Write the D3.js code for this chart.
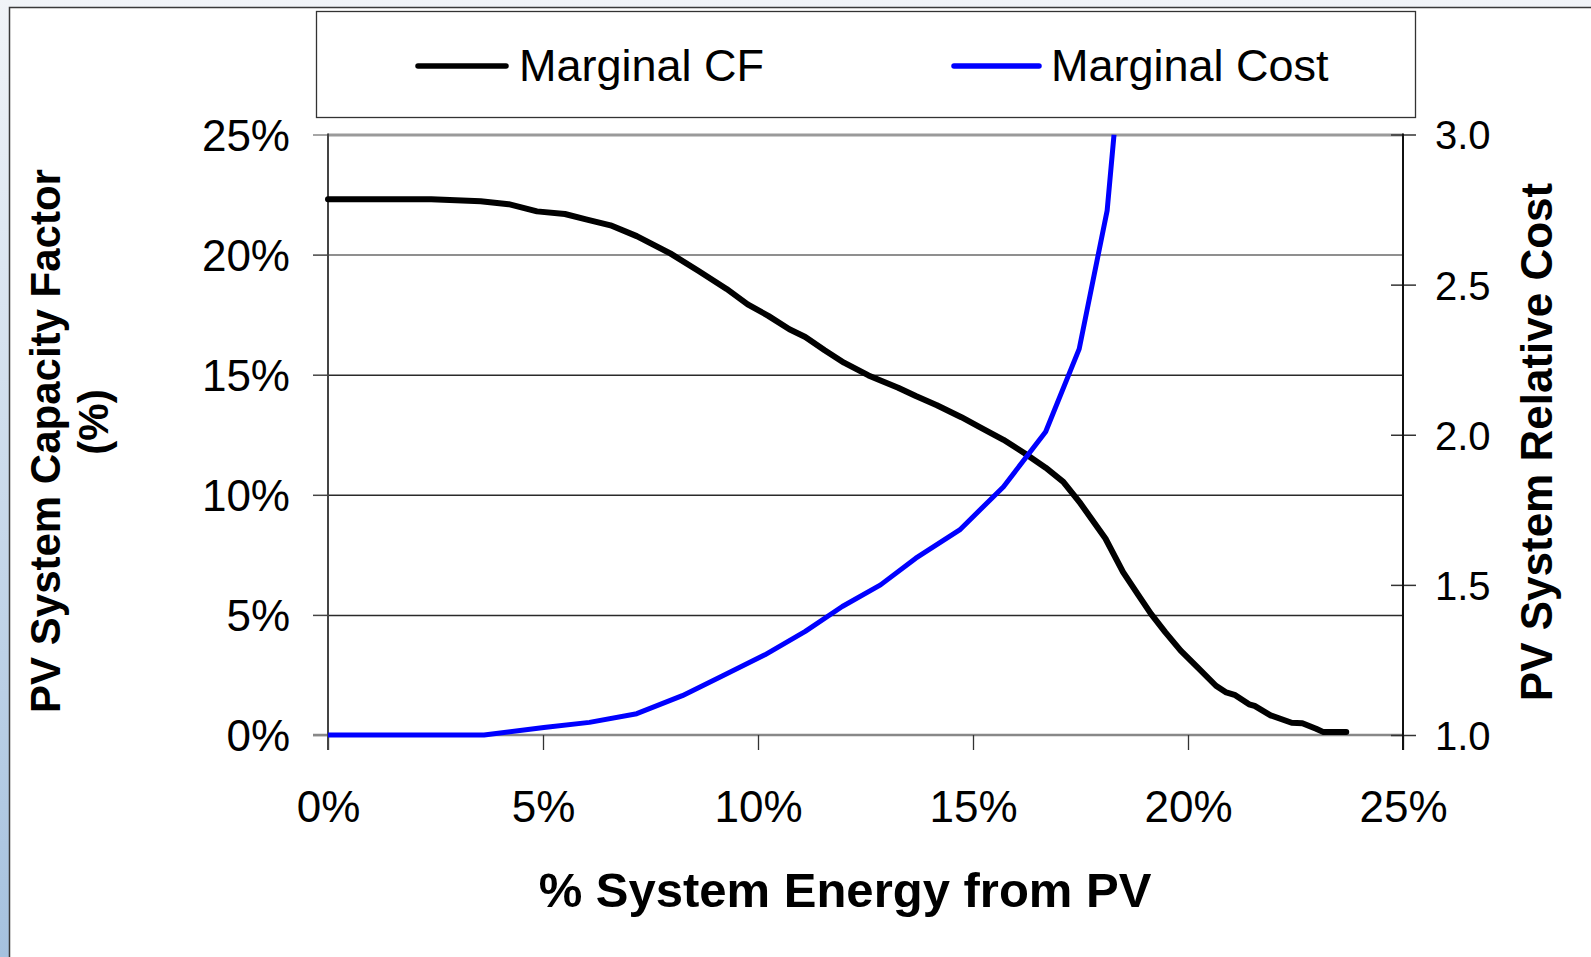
<!DOCTYPE html>
<html>
<head>
<meta charset="utf-8">
<script src="https://cdn.jsdelivr.net/npm/d3@7"></script>
<style>
  html, body { margin: 0; padding: 0; background: #fff; overflow: hidden; }
  text { font-family: "Liberation Sans", Arial, Helvetica, sans-serif; fill: #000; }
</style>
</head>
<body>
<svg id="chart" width="1591" height="957"></svg>
<script>
// ---- Data ----
const seriesNames = ["Marginal CF", "Marginal Cost"];
// Marginal CF (left axis, %)
const cfX = [0, 0.6, 2.4, 3.55, 4.2, 4.86, 5.51, 6.0, 6.57, 7.18, 7.96, 8.61, 9.27, 9.76, 10.24, 10.73, 11.1, 11.55, 12.0, 12.57, 12.85, 13.26, 13.67, 14.16, 14.73, 15.2, 15.71, 16.2, 16.69, 17.1, 17.5, 18.08, 18.49, 18.85, 19.14, 19.47, 19.83, 20.2, 20.65, 20.89, 21.1, 21.42, 21.55, 21.92, 22.41, 22.66, 22.98, 23.15, 23.68];
const cfY = [22.3, 22.3, 22.3, 22.22, 22.1, 21.8, 21.69, 21.47, 21.22, 20.77, 20.05, 19.33, 18.57, 17.93, 17.45, 16.89, 16.57, 16.02, 15.5, 14.97, 14.76, 14.46, 14.11, 13.73, 13.23, 12.78, 12.29, 11.73, 11.13, 10.54, 9.64, 8.18, 6.78, 5.81, 5.04, 4.28, 3.51, 2.86, 2.05, 1.77, 1.66, 1.28, 1.21, 0.82, 0.51, 0.49, 0.26, 0.12, 0.12];
// Marginal Cost (right axis, relative)
const costX = [0, 3.63, 5.02, 6.08, 7.18, 8.24, 9.18, 10.16, 11.1, 11.96, 12.85, 13.67, 14.69, 15.71, 16.69, 17.47, 18.12, 18.28];
const costY = [1.0, 1.0, 1.025, 1.042, 1.071, 1.131, 1.197, 1.267, 1.345, 1.428, 1.5, 1.589, 1.683, 1.827, 2.01, 2.286, 2.747, 3.0];
// Ticks
const xTicks = [0, 5, 10, 15, 20, 25];
const yLeftTicks = [0, 5, 10, 15, 20, 25];
const yRightTicks = [1.0, 1.5, 2.0, 2.5, 3.0];

// ---- Layout ----
const W = 1591, H = 957;
const plot = { left: 328, right: 1403, top: 134.5, bottom: 735 };

const svg = d3.select("#chart");
const defs = svg.append("defs");
const grad = defs.append("linearGradient").attr("id", "bg").attr("x1", 0).attr("y1", 0).attr("x2", 0).attr("y2", 1);
grad.append("stop").attr("offset", "0%").attr("stop-color", "#f1f4f8");
grad.append("stop").attr("offset", "100%").attr("stop-color", "#a5c1de");
defs.append("clipPath").attr("id", "clip").append("rect")
  .attr("x", plot.left - 10).attr("y", plot.top).attr("width", plot.right - plot.left + 20).attr("height", plot.bottom - plot.top + 10);

svg.append("rect").attr("x", 0).attr("y", 0).attr("width", W).attr("height", H).attr("fill", "url(#bg)");
svg.append("rect").attr("x", 9.5).attr("y", 7.5).attr("width", W + 20).attr("height", H + 20)
  .attr("fill", "#fff").attr("stroke", "#3a3a3a").attr("stroke-width", 1.5);

const x = d3.scaleLinear().domain([0, 25]).range([plot.left, plot.right]);
const yL = d3.scaleLinear().domain([0, 25]).range([plot.bottom, plot.top]);
const yR = d3.scaleLinear().domain([1, 3]).range([plot.bottom, plot.top]);

// Gridlines
const grid = svg.append("g").attr("transform", `translate(${plot.left},0)`)
  .call(d3.axisRight(yL).tickValues(yLeftTicks.filter(d => d > 0)).tickSize(plot.right - plot.left).tickFormat(""));
grid.select(".domain").remove();
grid.selectAll(".tick line")
  .attr("stroke", d => d === 25 ? "#9a9a9a" : (d === 20 ? "#6a6a6a" : "#2a2a2a"))
  .attr("stroke-width", d => d === 25 ? 3 : 1.5);

// Left axis
const gL = svg.append("g").attr("transform", `translate(${plot.left},0)`)
  .call(d3.axisLeft(yL).tickValues(yLeftTicks).tickSize(15).tickPadding(23).tickFormat(d => d + "%"));
gL.select(".domain").remove();
gL.selectAll(".tick line").attr("stroke", d => d === 0 || d === 25 ? "#888" : "#444").attr("stroke-width", 1.5);
gL.selectAll(".tick text").attr("font-size", 44).attr("dy", "0.36em")
  .attr("font-family", "Liberation Sans, Arial, sans-serif");

// Bottom axis
const gB = svg.append("g").attr("transform", `translate(0,${plot.bottom})`)
  .call(d3.axisBottom(x).tickValues(xTicks).tickSize(15).tickPadding(41).tickFormat(d => d + "%"));
gB.select(".domain").attr("stroke", "#888").attr("stroke-width", 2.5)
  .attr("d", `M${plot.left - 15},0H${plot.right}`);
gB.selectAll(".tick line").attr("stroke", "#333").attr("stroke-width", 1.3);
gB.selectAll(".tick text").attr("font-size", 44)
  .attr("font-family", "Liberation Sans, Arial, sans-serif");

// Right axis
const gR = svg.append("g").attr("transform", `translate(${plot.right},0)`)
  .call(d3.axisRight(yR).tickValues(yRightTicks).tickSize(13).tickPadding(19).tickFormat(d3.format(".1f")));
gR.select(".domain").remove();
gR.selectAll(".tick line").attr("x1", -12).attr("stroke", "#333").attr("stroke-width", 1.5);
gR.selectAll(".tick text").attr("font-size", 40).attr("dy", "0.36em")
  .attr("font-family", "Liberation Sans, Arial, sans-serif");

// Axis lines
svg.append("line").attr("x1", plot.left).attr("x2", plot.left).attr("y1", plot.top - 1).attr("y2", plot.bottom + 15)
  .attr("stroke", "#444").attr("stroke-width", 2);
svg.append("line").attr("x1", plot.right).attr("x2", plot.right).attr("y1", plot.top - 1).attr("y2", plot.bottom + 15)
  .attr("stroke", "#111").attr("stroke-width", 2);

// Series
const cfData = cfX.map((d, i) => [d, cfY[i]]);
const costData = costX.map((d, i) => [d, costY[i]]);
const lineL = d3.line().x(d => x(d[0])).y(d => yL(d[1]));
const lineR = d3.line().x(d => x(d[0])).y(d => yR(d[1]));
const series = svg.append("g").attr("clip-path", "url(#clip)");
series.append("path").datum(cfData).attr("d", lineL).attr("fill", "none")
  .attr("stroke", "#000").attr("stroke-width", 6).attr("stroke-linejoin", "round").attr("stroke-linecap", "round");
series.append("path").datum(costData).attr("d", lineR).attr("fill", "none")
  .attr("stroke", "#0000ff").attr("stroke-width", 5).attr("stroke-linejoin", "round");

// Legend
const leg = svg.append("g");
leg.append("rect").attr("x", 316.5).attr("y", 11.5).attr("width", 1099).attr("height", 106)
  .attr("fill", "#fff").attr("stroke", "#333").attr("stroke-width", 1.3);
const legItems = [
  { name: seriesNames[0], color: "#000", x1: 418, x2: 506, tx: 519 },
  { name: seriesNames[1], color: "#0000ff", x1: 954, x2: 1039, tx: 1051 }
];
legItems.forEach(it => {
  leg.append("line").attr("x1", it.x1).attr("x2", it.x2).attr("y1", 66).attr("y2", 66)
    .attr("stroke", it.color).attr("stroke-width", 5.5).attr("stroke-linecap", "round");
  leg.append("text").attr("x", it.tx).attr("y", 81).attr("font-size", 45).text(it.name);
});

// Axis titles
svg.append("text").attr("transform", "translate(60,441) rotate(-90)").attr("text-anchor", "middle")
  .attr("font-size", 42).attr("font-weight", "bold").text("PV System Capacity Factor");
svg.append("text").attr("transform", "translate(108,422) rotate(-90)").attr("text-anchor", "middle")
  .attr("font-size", 42).attr("font-weight", "bold").text("(%)");
svg.append("text").attr("transform", "translate(1552,442) rotate(-90)").attr("text-anchor", "middle")
  .attr("font-size", 44).attr("font-weight", "bold").text("PV System Relative Cost");
svg.append("text").attr("x", 845).attr("y", 907).attr("text-anchor", "middle")
  .attr("font-size", 49).attr("font-weight", "bold").text("% System Energy from PV");
</script>
</body>
</html>
